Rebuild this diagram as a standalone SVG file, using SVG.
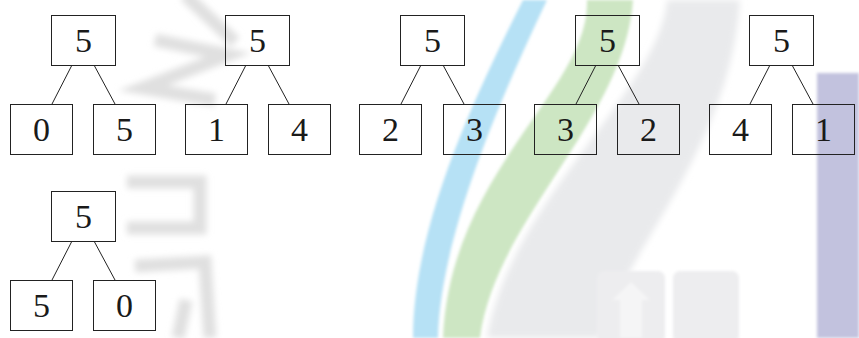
<svg xmlns="http://www.w3.org/2000/svg" width="859" height="338" viewBox="0 0 859 338">
<defs>
<filter id="blur" x="-20%" y="-20%" width="140%" height="140%"><feGaussianBlur stdDeviation="3"/></filter>
<filter id="soft" x="-20%" y="-20%" width="140%" height="140%"><feGaussianBlur stdDeviation="1.5"/></filter>
<style>
.box{fill:none;stroke:#222;stroke-width:1}
.edge{stroke:#222;stroke-width:1;fill:none}
.lbl{font-family:"Liberation Serif","DejaVu Serif",serif;font-size:34px;fill:#1a1a1a;text-anchor:middle}
.wm{fill:none;stroke:#e0e0e0;stroke-width:13;stroke-linecap:butt}
</style>
</defs>
<rect width="859" height="338" fill="#ffffff"/>
<g id="watermark">
<g filter="url(#blur)">
<path class="wm" d="M185,-5 L235,42"/>
<path class="wm" d="M155,40 L228,55 L143,88 L215,100"/>
<path class="wm" d="M127,182 L200,182 L200,228 L127,228"/>
<path class="wm" d="M135,266 L205,262 L210,338"/>
<path class="wm" d="M178,338 L186,300"/>
<path d="M667,0 C660,90 510,200 487,338 L600,338 C625,250 730,150 740,0 Z" fill="#e9eaec"/>
</g>
<g filter="url(#soft)">
<path d="M523,0 C470,105 413,230 413,338 L438,338 C440,240 497,105 547,0 Z" fill="#b6e1f5"/>
<path d="M587,0 C590,90 450,170 443,338 L480,338 C495,220 625,120 633,0 Z" fill="#cde6c3"/>
<rect x="817" y="73" width="42" height="265" fill="#c2c2de"/>
<rect x="597" y="271" width="68" height="72" rx="7" fill="#ededef"/>
<rect x="673" y="271" width="66" height="72" rx="7" fill="#ededef"/>
<path d="M620,338 L620,300 L612,300 L631,282 L650,300 L642,300 L642,338 Z" fill="#f5f5f6"/>
</g>
</g>
<g id="connectors">
<line class="edge" x1="72" y1="65" x2="52" y2="104"/>
<line class="edge" x1="94" y1="65" x2="115" y2="104"/>
<line class="edge" x1="246" y1="65" x2="226" y2="104"/>
<line class="edge" x1="268" y1="65" x2="289" y2="104"/>
<line class="edge" x1="421" y1="65" x2="401" y2="104"/>
<line class="edge" x1="443" y1="65" x2="464" y2="104"/>
<line class="edge" x1="596" y1="65" x2="576" y2="104"/>
<line class="edge" x1="618" y1="65" x2="639" y2="104"/>
<line class="edge" x1="770" y1="65" x2="750" y2="104"/>
<line class="edge" x1="792" y1="65" x2="813" y2="104"/>
<line class="edge" x1="72" y1="241" x2="52" y2="280"/>
<line class="edge" x1="94" y1="241" x2="115" y2="280"/>
</g>
<g id="t1-root"><rect class="box" x="51.5" y="15.5" width="64" height="50"/><text class="lbl" x="83.5" y="52">5</text></g>
<g id="t1-left"><rect class="box" x="10.5" y="104.5" width="62" height="50"/><text class="lbl" x="41.5" y="141">0</text></g>
<g id="t1-right"><rect class="box" x="93.5" y="104.5" width="62" height="50"/><text class="lbl" x="124.5" y="141">5</text></g>
<g id="t2-root"><rect class="box" x="225.5" y="15.5" width="64" height="50"/><text class="lbl" x="257.5" y="52">5</text></g>
<g id="t2-left"><rect class="box" x="185.5" y="104.5" width="62" height="50"/><text class="lbl" x="216.5" y="141">1</text></g>
<g id="t2-right"><rect class="box" x="268.5" y="104.5" width="62" height="50"/><text class="lbl" x="299.5" y="141">4</text></g>
<g id="t3-root"><rect class="box" x="400.5" y="15.5" width="64" height="50"/><text class="lbl" x="432.5" y="52">5</text></g>
<g id="t3-left"><rect class="box" x="359.5" y="104.5" width="62" height="50"/><text class="lbl" x="390.5" y="141">2</text></g>
<g id="t3-right"><rect class="box" x="443.5" y="104.5" width="62" height="50"/><text class="lbl" x="474.5" y="141">3</text></g>
<g id="t4-root"><rect class="box" x="575.5" y="15.5" width="64" height="50"/><text class="lbl" x="607.5" y="52">5</text></g>
<g id="t4-left"><rect class="box" x="534.5" y="104.5" width="62" height="50"/><text class="lbl" x="565.5" y="141">3</text></g>
<g id="t4-right"><rect class="box" x="617.5" y="104.5" width="62" height="50"/><text class="lbl" x="648.5" y="141">2</text></g>
<g id="t5-root"><rect class="box" x="749.5" y="15.5" width="64" height="50"/><text class="lbl" x="781.5" y="52">5</text></g>
<g id="t5-left"><rect class="box" x="709.5" y="104.5" width="62" height="50"/><text class="lbl" x="740.5" y="141">4</text></g>
<g id="t5-right"><rect class="box" x="792.5" y="104.5" width="62" height="50"/><text class="lbl" x="823.5" y="141">1</text></g>
<g id="t6-root"><rect class="box" x="51.5" y="191.5" width="64" height="50"/><text class="lbl" x="83.5" y="228">5</text></g>
<g id="t6-left"><rect class="box" x="10.5" y="280.5" width="62" height="50"/><text class="lbl" x="41.5" y="317">5</text></g>
<g id="t6-right"><rect class="box" x="93.5" y="280.5" width="62" height="50"/><text class="lbl" x="124.5" y="317">0</text></g>
</svg>
